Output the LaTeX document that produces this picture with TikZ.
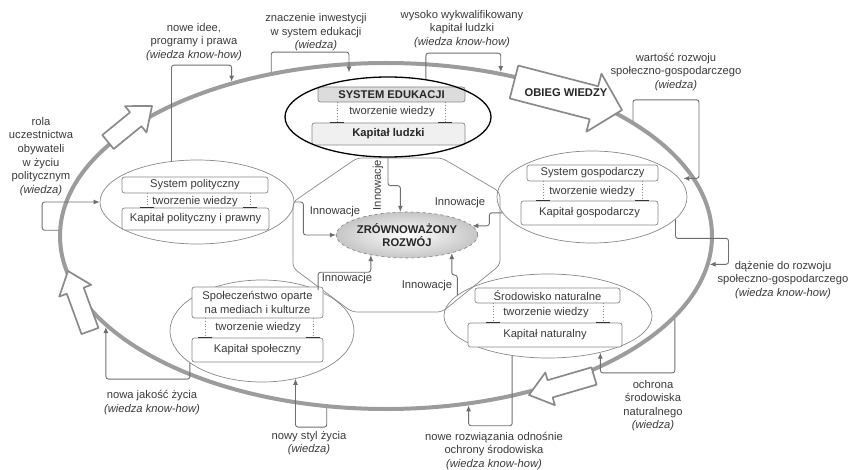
\documentclass[tikz,border=0pt]{standalone}
\usepackage{fontspec}
\setmainfont{Liberation Sans}
\usetikzlibrary{shapes.geometric,calc,arrows.meta}
\definecolor{ringgray}{HTML}{9C9C9C}
\definecolor{blkgray}{HTML}{8A8A8A}
\definecolor{linegray}{HTML}{6E6E6E}
\definecolor{boxgray}{HTML}{888888}
\definecolor{txtgray}{HTML}{3A3A3A}
\definecolor{edufill}{HTML}{DCDCDC}
\definecolor{kapfill}{HTML}{F0F0F0}
\newcommand\fs{\fontsize{11.2pt}{13.6pt}\selectfont}
\newcommand\blkarrow[5]{%
  \coordinate (bkb) at ($(#2)!#5!(#1)$);
  \draw[blk] ($(#1)!#3!90:(#2)$) -- ($(bkb)!#3!90:(#2)$) -- ($(bkb)!#4!90:(#2)$) -- (#2)
    -- ($(bkb)!#4!-90:(#2)$) -- ($(bkb)!#3!-90:(#2)$) -- ($(#1)!#3!-90:(#2)$) -- cycle;}
\newcommand\twlinks[4]{%
  \draw[dotl] (#3,0 |- #1.south) -- (#3,0 |- #2.north);
  \draw[dotl] (#4,0 |- #1.south) -- (#4,0 |- #2.north);
  \draw[tee] ($(#3,0 |- #2.north)+(-7,0)$) -- ($(#3,0 |- #2.north)+(7,0)$);
  \draw[tee] ($(#4,0 |- #2.north)+(-7,0)$) -- ($(#4,0 |- #2.north)+(7,0)$);}
\begin{document}
\begin{tikzpicture}[x=1pt,y=-1pt,
  every node/.style={font=\fs},
  conn/.style={draw=linegray, line width=0.9pt, rounded corners=2.5pt, -{Latex[length=6pt,width=5pt]}},
  sidell/.style={ellipse, draw=boxgray, line width=0.7pt, inner sep=0pt},
  box/.style={draw=boxgray, line width=0.7pt, rounded corners=2.5pt, fill=white, inner sep=0pt, text=txtgray, align=center},
  lbl/.style={align=center, text=txtgray, inner sep=0pt},
  tw/.style={text=txtgray, inner sep=1pt},
  dotl/.style={draw=boxgray, dotted, line width=0.7pt},
  tee/.style={draw=black!80, line width=1.5pt},
  blk/.style={draw=blkgray, fill=white, line width=1.7pt, line join=round},
  octo/.style={draw=boxgray, line width=0.7pt, rounded corners=5pt}]
\useasboundingbox (0,0) rectangle (848,470);

% outer ring
\node[draw=ringgray, line width=4pt, ellipse, minimum width=652pt, minimum height=346pt, inner sep=0pt] (ring) at (386,236) {};

% block arrows on the ring
\coordinate (a1t) at (108,142); \coordinate (a1p) at (152,106);
\coordinate (a2t) at (90,331);  \coordinate (a2p) at (68,271);
\coordinate (a3t) at (594,376); \coordinate (a3p) at (529,395);
\coordinate (a4t) at (514,82);  \coordinate (a4p) at (622,110);
\blkarrow{a1t}{a1p}{9pt}{17pt}{21pt}
\blkarrow{a2t}{a2p}{9pt}{17pt}{21pt}
\blkarrow{a3t}{a3p}{9pt}{17pt}{22pt}
\blkarrow{a4t}{a4p}{17pt}{30pt}{29pt}
\node[font=\fs\bfseries, text=black!85] (obieg) at (566,93) {OBIEG WIEDZY};

% octagon
\draw[octo] (357,158) -- (442,158) -- (500,192) -- (500,265) -- (442,312) -- (352,312) -- (293,268) -- (293,202) -- cycle;

% side ellipses
\node[sidell, minimum width=194pt, minimum height=84pt] (pol) at (197,202) {};
\node[sidell, minimum width=190pt, minimum height=92pt] (eco) at (592,197) {};
\node[sidell, minimum width=184pt, minimum height=102pt] (soc) at (262,331) {};
\node[sidell, minimum width=208pt, minimum height=84pt] (nat) at (548,316) {};

% political
\node[box, minimum width=146pt, minimum height=16pt] (pol1) at (195,185) {System polityczny};
\node[box, minimum width=147pt, minimum height=22pt] (pol2) at (195.5,219) {Kapitał polityczny i prawny};
\node[tw] (polt) at (195,201.5) {tworzenie wiedzy};
\twlinks{pol1}{pol2}{147}{250}

% economic
\node[box, minimum width=131pt, minimum height=16pt] (eco1) at (592.5,173) {System gospodarczy};
\node[box, minimum width=137pt, minimum height=24pt] (eco2) at (589.5,213) {Kapitał gospodarczy};
\node[tw] (ecot) at (592,191.5) {tworzenie wiedzy};
\twlinks{eco1}{eco2}{543}{642}

% social
\node[box, minimum width=131pt, minimum height=31pt] (soc1) at (257.5,302.5) {Społeczeństwo oparte\\na mediach i kulturze};
\node[box, minimum width=131pt, minimum height=24pt] (soc2) at (257.5,350) {Kapitał społeczny};
\node[tw] (soct) at (258,328) {tworzenie wiedzy};
\twlinks{soc1}{soc2}{205}{313}

% natural
\node[box, minimum width=145pt, minimum height=15pt] (nat1) at (547.5,295.5) {Środowisko naturalne};
\node[box, minimum width=154pt, minimum height=24pt] (nat2) at (545,335) {Kapitał naturalny};
\node[tw] (natt) at (546,313) {tworzenie wiedzy};
\twlinks{nat1}{nat2}{493}{603}

% education
\node[box, fill=edufill, minimum width=147pt, minimum height=15pt, font=\fs\bfseries, text=black!85] (edu1) at (391.5,94.5) {SYSTEM EDUKACJI};
\node[box, fill=kapfill, minimum width=153pt, minimum height=22pt, font=\fs\bfseries, text=black!85] (edu2) at (388.5,134) {Kapitał ludzki};
\node[tw] (edut) at (392,112) {tworzenie wiedzy};
\twlinks{edu1}{edu2}{337}{445}
\node[ellipse, draw=black, line width=1.3pt, minimum width=206pt, minimum height=80pt, inner sep=0pt] (edu) at (388,117) {};

% central goal
\node[ellipse, draw=gray, dashed, line width=0.6pt, inner color=white, outer color=gray!45,
  minimum width=121pt, minimum height=46pt, inner sep=0pt, align=center,
  font=\fs\bfseries, text=black!85] (zr) at (407,235) {ZRÓWNOWAŻONY\\ROZWÓJ};

% innovation connectors
\draw[conn] (edu.south) -- ++(0,28) -| (zr.106);
\draw[conn] (pol.east) -- ++(9,0) |- (zr.west);
\draw[conn] (eco.190) -- ++(-13,0) |- (zr.8);
\draw[conn] (soc.36) -- ++(0,-18) -| (zr.209);
\draw[conn] (nat.167) -- ++(0,-20) -| (zr.-22);
\node[tw, rotate=90] (inn1) at (378,185) {Innowacje};
\node[tw] (inn2) at (335,212) {Innowacje};
\node[tw] (inn3) at (460,203) {Innowacje};
\node[tw] (inn4) at (347,279) {Innowacje};
\node[tw] (inn5) at (427,286) {Innowacje};

% outer connectors
\draw[conn] (pol.122) -- ++(0,-96) -| (ring.135);
\draw[conn, shorten >=7pt] (ring.125) -- ++(0,-20) -| (edu.136);
\draw[conn] (edu.45) -- ++(0,-26) -| (ring.55);
\draw[conn, shorten >=4pt] (ring.25) -- ++(0,-21) -- ++(66,0) |- (eco.12);
\draw[conn] (eco.-15) -- ++(0,19) -- ++(53,0) |- (ring.-5);
\draw[conn] (ring.179) -- ++(-16,0) |- (pol.west);
\draw[conn] (soc.204) -- ++(0,16) -| (ring.198);
\draw[conn] (ring.251) -- ++(0,19) -| (soc.-55);
\draw[conn] (nat.-132) -- ++(0,70) -| (ring.-64);
\draw[conn] (ring.-16) -- ++(0,54) -| (nat.-35);

% labels
\node[lbl] (l1) at (194,42) {nowe idee,\\programy i prawa\\\textit{(wiedza know-how)}};
\node[lbl] (l2) at (316,32.5) {znaczenie inwestycji\\w system edukacji\\\textit{(wiedza)}};
\node[lbl] (l3) at (462,29) {wysoko wykwalifikowany\\kapitał ludzki\\\textit{(wiedza know-how)}};
\node[lbl] (l4) at (676,72) {wartość rozwoju\\społeczno-gospodarczego\\\textit{(wiedza)}};
\node[lbl] (l5) at (783,280) {dążenie do rozwoju\\społeczno-gospodarczego\\\textit{(wiedza know-how)}};
\node[lbl] (l6) at (41,156.5) {rola\\uczestnictwa\\obywateli\\w życiu\\politycznym\\\textit{(wiedza)}};
\node[lbl] (l7) at (152,402.5) {nowa jakość życia\\\textit{(wiedza know-how)}};
\node[lbl] (l8) at (309,443) {nowy styl życia\\\textit{(wiedza)}};
\node[lbl] (l9) at (494,451) {nowe rozwiązania odnośnie\\ochrony środowiska\\\textit{(wiedza know-how)}};
\node[lbl] (l10) at (653,405.5) {ochrona\\środowiska\\naturalnego\\\textit{(wiedza)}};
\end{tikzpicture}
\end{document}
